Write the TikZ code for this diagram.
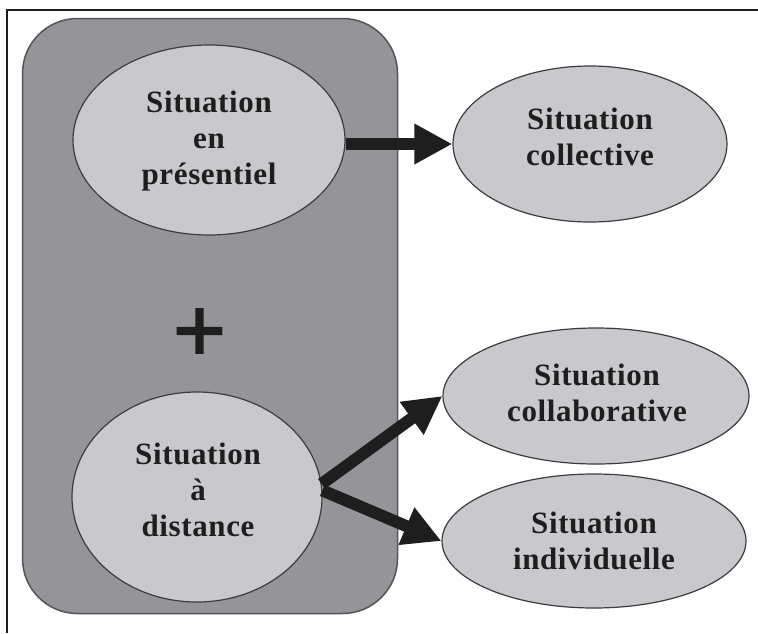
\documentclass[tikz,border=0pt]{standalone}
\usepackage{fontspec}
\setmainfont[LetterSpace=2]{Liberation Serif}
\newfontfamily\plusfont[FakeBold=2]{Liberation Sans}
\usetikzlibrary{shapes.geometric,arrows.meta}
\definecolor{boxfill}{RGB}{149,149,153}
\definecolor{boxline}{RGB}{85,85,88}
\definecolor{ellfill}{RGB}{201,201,205}
\definecolor{ellline}{RGB}{60,60,62}
\definecolor{ink}{RGB}{30,30,30}
\tikzset{
  ell/.style={ellipse, draw=ellline, line width=1.2pt, fill=ellfill, inner sep=0pt},
  lbl/.style={align=center, text=ink, font=\fontsize{31}{36}\selectfont\bfseries, inner sep=0pt},
  bigarrow/.style={draw=ink, line width=12pt, -{Triangle[length=38pt,width=38pt]}},
}
\begin{document}
\begin{tikzpicture}[x=1pt,y=-1pt]
\useasboundingbox (0,0) rectangle (758,633);
\fill[white] (0,0) rectangle (758,633);
% frame
\draw[ink, line width=1.5pt] (7,633) -- (7,10) -- (758,10);
% grey container
\node[draw=boxline, line width=1.5pt, fill=boxfill, rounded corners=55pt, minimum width=375pt, minimum height=595pt, inner sep=0pt] (box) at (210,316) {};
% ellipses
\node[ell, minimum width=272pt, minimum height=190pt] (pres) at (209,140) {};
\node[ell, minimum width=250pt, minimum height=210pt] (dist) at (197,497) {};
\node[ell, minimum width=274pt, minimum height=156pt] (coll) at (590,144) {};
\node[ell, minimum width=306pt, minimum height=136pt] (collab) at (596,396) {};
\node[ell, minimum width=304pt, minimum height=134pt] (indiv) at (594,541) {};
% texts
\node[lbl] (tpres) at (209,141) {Situation\\en\\présentiel};
\node[lbl] (tdist) at (198,490) {Situation\\à\\distance};
\node[lbl] (tcoll) at (590,137) {Situation\\collective};
\node[lbl] (tcollab) at (597,393) {Situation\\collaborative};
\node[lbl] (tindiv) at (594,541) {Situation\\individuelle};
% plus
\node[text=ink, font=\plusfont\fontsize{90}{90}\selectfont, inner sep=0pt] (plus) at (199.5,335) {+};
% arrows
\draw[bigarrow] (coll.west -| pres.east) -- (coll.west);
\draw[bigarrow] (dist.6) -- (collab.west);
\draw[bigarrow] (dist.3) -- (indiv.west);
\end{tikzpicture}
\end{document}
